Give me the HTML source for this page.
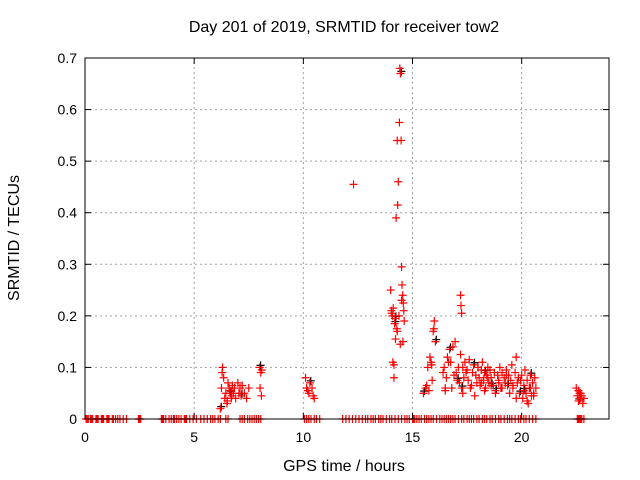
<!DOCTYPE html>
<html><head><meta charset="utf-8"><style>
body{margin:0;background:#fff}
svg{display:block;font-family:"Liberation Sans",sans-serif}
</style></head><body>
<svg id="chart" width="640" height="480">
<g id="grid"></g><g id="marks"></g><g id="axes"></g>
</svg>
<script>
const xTicks=[0,5,10,15,20];
const yTicks=[0,0.1,0.2,0.3,0.4,0.5,0.6,0.7];
const yTickLabels=["0","0.1","0.2","0.3","0.4","0.5","0.6","0.7"];
const zeroHours=[0.05,0.1,0.15,0.25,0.3,0.35,0.5,0.55,0.6,0.75,0.8,0.85,1.0,1.05,1.1,1.25,1.3,1.4,1.5,1.6,1.75,1.9,2.45,2.5,2.55,3.5,3.55,3.6,3.7,3.85,3.95,4.05,4.1,4.2,4.3,4.4,4.55,4.6,4.65,4.8,4.95,5.1,5.3,5.45,5.6,5.75,5.85,5.95,6.1,6.2,6.45,6.55,7.1,7.2,7.3,7.45,7.55,7.65,7.75,7.85,7.95,8.05,10.05,10.15,10.25,10.35,10.5,10.6,10.75,11.8,11.95,12.1,12.25,12.4,12.55,12.7,12.85,12.95,13.1,13.2,13.3,13.45,13.55,13.65,13.8,13.95,14.05,14.2,14.35,14.5,14.65,14.75,14.85,15.0,15.05,15.1,15.2,15.3,15.4,15.55,15.65,15.75,15.85,15.95,16.1,16.25,16.35,16.45,16.55,16.65,16.75,16.85,16.95,17.1,17.25,17.35,17.5,17.6,17.7,17.8,17.95,18.05,18.2,18.3,18.4,18.55,18.65,18.8,18.95,19.05,19.2,19.35,19.45,19.55,19.7,19.85,19.95,20.1,20.2,20.35,20.5,20.65,22.55,22.6,22.65,22.7,22.75,22.85];
const hours=[6.2,6.25,6.3,6.35,6.4,6.45,6.5,6.55,6.6,6.65,6.7,6.75,6.8,6.85,6.9,7.0,7.05,7.1,7.15,7.2,7.3,7.4,7.5,6.28,6.52,6.62,6.72,
8.0,8.05,8.1,8.02,8.08,
10.1,10.15,10.2,10.25,10.3,10.4,10.45,10.5,
12.3,
14.0,14.05,14.1,14.15,14.2,14.22,14.25,14.3,14.32,14.35,14.38,14.4,14.42,14.45,14.48,14.5,14.52,14.55,14.58,14.6,14.62,14.12,14.18,14.28,14.44,14.5,14.56,14.08,14.03,14.15,14.3,
15.5,15.6,15.7,15.75,15.8,15.85,15.9,15.95,16.0,16.05,15.65,15.88,15.98,
16.4,16.45,16.5,16.55,16.6,16.7,16.75,16.8,16.9,16.95,17.0,17.1,17.15,17.2,17.25,17.3,17.35,17.4,17.5,17.55,17.6,17.7,17.75,17.8,17.9,17.95,18.0,18.05,18.1,18.15,18.2,18.25,18.3,18.35,18.4,18.45,18.5,18.55,18.6,18.7,18.75,18.8,18.9,18.95,19.0,19.05,19.1,19.2,19.25,19.3,19.35,19.4,19.5,19.55,19.6,19.7,19.75,19.8,19.85,19.9,20.0,20.05,20.1,20.15,20.2,20.25,20.3,20.35,20.4,20.45,20.5,20.55,20.6,20.65,
16.5,16.65,16.85,17.05,17.3,17.45,17.65,17.85,18.0,18.15,18.3,18.45,18.6,18.8,18.95,19.1,19.3,19.45,19.6,19.75,19.95,20.1,20.25,20.4,20.55,17.2,17.22,17.25,
22.5,22.55,22.6,22.65,22.7,22.75,22.8,22.85,22.6,22.7];
const values=[0.02,0.06,0.1,0.08,0.04,0.05,0.03,0.07,0.06,0.05,0.04,0.065,0.05,0.06,0.04,0.07,0.05,0.06,0.045,0.065,0.05,0.04,0.06,0.09,0.035,0.055,0.045,
0.1,0.09,0.095,0.06,0.045,
0.08,0.06,0.055,0.05,0.07,0.06,0.045,0.04,
0.455,
0.25,0.205,0.11,0.08,0.195,0.155,0.39,0.54,0.415,0.46,0.2,0.575,0.68,0.67,0.54,0.295,0.26,0.24,0.225,0.21,0.19,0.215,0.185,0.175,0.145,0.23,0.15,0.2,0.21,0.105,0.17,
0.05,0.06,0.1,0.055,0.12,0.11,0.075,0.17,0.19,0.15,0.065,0.105,0.175,
0.09,0.1,0.055,0.08,0.12,0.135,0.11,0.06,0.085,0.15,0.09,0.1,0.07,0.125,0.06,0.1,0.08,0.11,0.095,0.075,0.115,0.065,0.09,0.105,0.085,0.07,0.1,0.08,0.065,0.095,0.11,0.075,0.09,0.06,0.085,0.1,0.07,0.095,0.08,0.065,0.09,0.055,0.085,0.075,0.1,0.06,0.09,0.08,0.07,0.095,0.065,0.085,0.075,0.105,0.06,0.09,0.12,0.07,0.08,0.05,0.085,0.04,0.065,0.095,0.05,0.075,0.03,0.06,0.085,0.045,0.07,0.05,0.08,0.06,
0.06,0.11,0.14,0.075,0.05,0.09,0.06,0.045,0.1,0.07,0.055,0.08,0.065,0.05,0.07,0.06,0.085,0.05,0.065,0.04,0.075,0.055,0.035,0.06,0.045,0.24,0.22,0.205,
0.06,0.045,0.035,0.05,0.04,0.045,0.03,0.04,0.055,0.05];
const X0=85,X1=609,Y0=419,Y1=58;
const xs=h=>X0+(X1-X0)*h/24;
const ys=v=>Y0-(Y0-Y1)*v/0.7;
const NS="http://www.w3.org/2000/svg";
function mk(tag,attrs,parent){const e=document.createElementNS(NS,tag);for(const k in attrs)e.setAttribute(k,attrs[k]);parent.appendChild(e);return e;}
const grid=document.getElementById('grid'),marks=document.getElementById('marks'),axes=document.getElementById('axes');
xTicks.forEach(t=>{if(t>0){const l=mk('line',{x1:xs(t),x2:xs(t),y1:Y0,y2:Y1,stroke:'#a0a0a0','stroke-dasharray':'2,3'},grid);

}
mk('line',{x1:xs(t),x2:xs(t),y1:Y0,y2:Y0-6,stroke:'#000'},axes);mk('line',{x1:xs(t),x2:xs(t),y1:Y1,y2:Y1+6,stroke:'#000'},axes);
const tx=mk('text',{x:xs(t),y:442,'text-anchor':'middle','font-size':14},axes);tx.textContent=t;

});
yTicks.forEach((t,i)=>{if(t>0&&t<0.7){const l=mk('line',{x1:X0,x2:X1,y1:ys(t),y2:ys(t),stroke:'#a0a0a0','stroke-dasharray':'2,3'},grid);

}
mk('line',{x1:X0,x2:X0+6,y1:ys(t),y2:ys(t),stroke:'#000'},axes);mk('line',{x1:X1,x2:X1-6,y1:ys(t),y2:ys(t),stroke:'#000'},axes);
const tx=mk('text',{x:77,y:ys(t)+5,'text-anchor':'end','font-size':14},axes);tx.textContent=yTickLabels[i];

});
const frame=mk('rect',{x:X0,y:Y1,width:X1-X0,height:Y0-Y1,fill:'none',stroke:'#000'},axes);


function cross(h,v,color,name){const x=xs(h),y=ys(v);const p=mk('path',{d:`M${x-4},${y}H${x+4}M${x},${y-4}V${y+4}`,stroke:color,'stroke-width':1.2,fill:'none'},marks);

}
hours.forEach((h,i)=>{if(i%9===0)cross(h+0.04,values[i]+0.004,'#000','black-point');});
zeroHours.forEach(h=>cross(h,0,'#f00','zero-point'));
hours.forEach((h,i)=>cross(h,values[i],'#f00','srmtid-point'));
const title=mk('text',{x:344,y:32,'text-anchor':'middle','font-size':16},axes);title.textContent='Day 201 of 2019, SRMTID for receiver tow2';


const xl=mk('text',{x:344,y:471,'text-anchor':'middle','font-size':16},axes);xl.textContent='GPS time / hours';


const yl=mk('text',{x:0,y:0,'text-anchor':'middle','font-size':16,transform:'translate(19,238) rotate(-90)'},axes);yl.textContent='SRMTID / TECUs';


</script>
</body></html>
